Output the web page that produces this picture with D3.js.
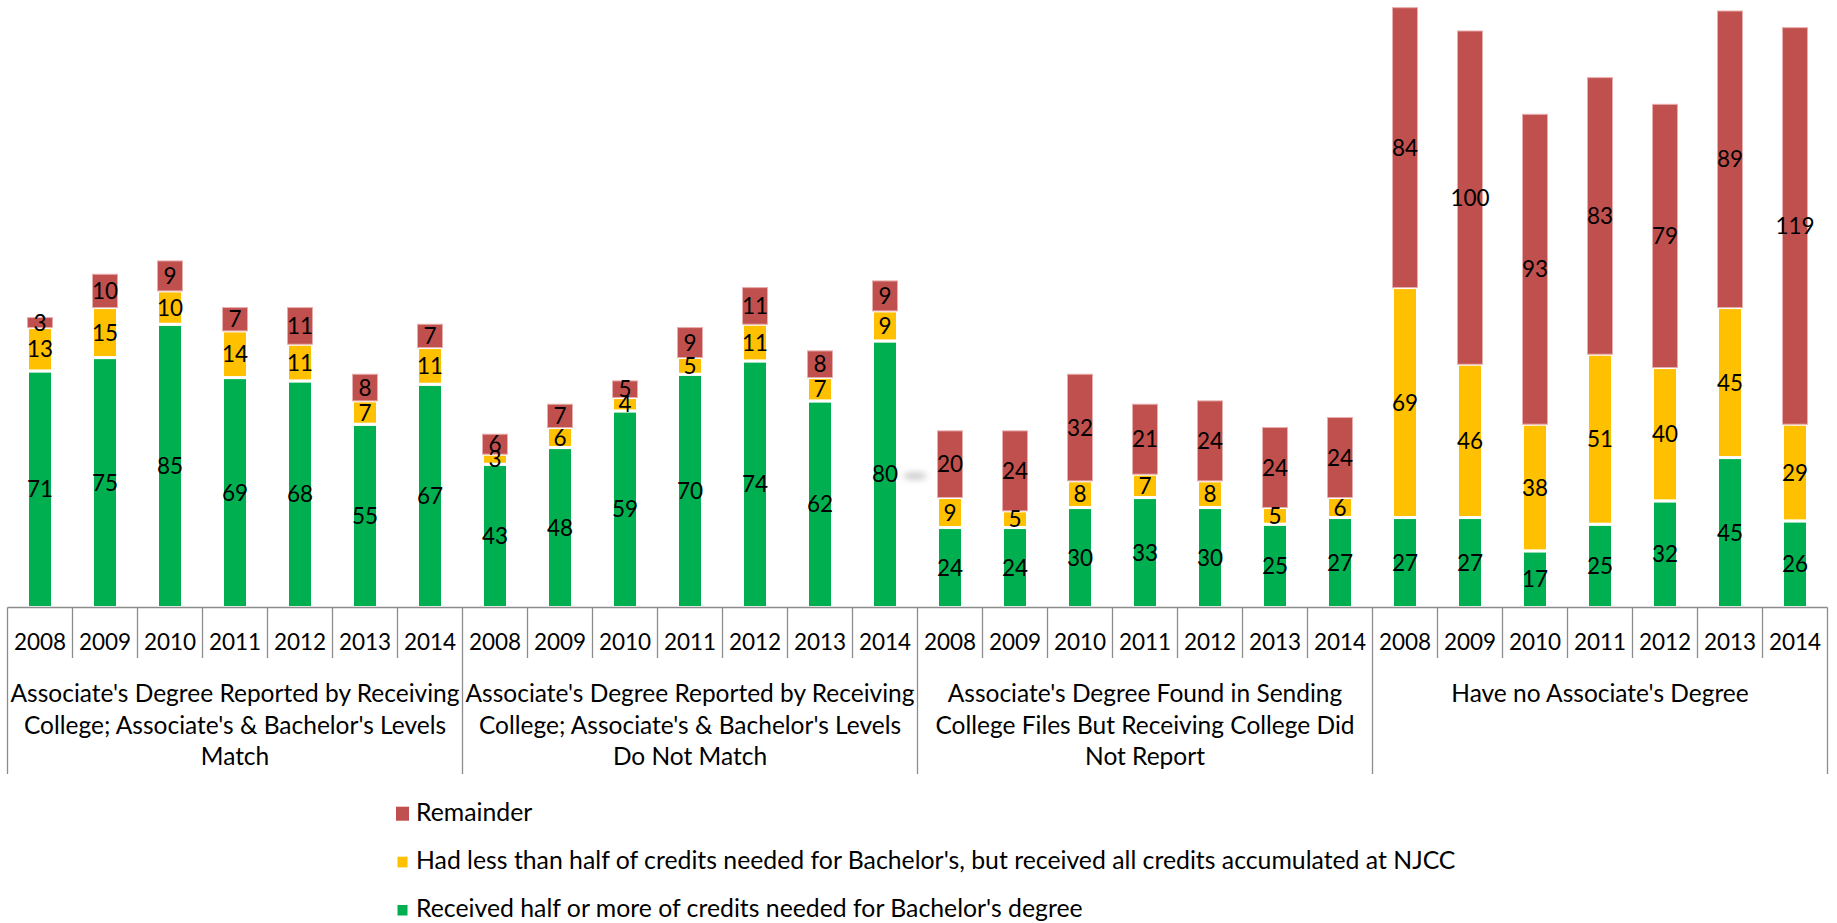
<!DOCTYPE html>
<html><head><meta charset="utf-8">
<script src="https://cdn.jsdelivr.net/npm/d3@7"></script>
<style>
body{margin:0;background:#fff}
svg{display:block}
text{font-family:Lato,"Open Sans",sans-serif;fill:#000}
</style>
</head><body>
<svg id="chart" width="1837" height="923"></svg>
<script>
// ---------- data ----------
const years = ["2008","2009","2010","2011","2012","2013","2014"];
const groupLabels = [
  ["Associate's Degree Reported by Receiving","College; Associate's & Bachelor's Levels","Match"],
  ["Associate's Degree Reported by Receiving","College; Associate's & Bachelor's Levels","Do Not Match"],
  ["Associate's Degree Found in Sending","College Files But Receiving College Did","Not Report"],
  ["Have no Associate's Degree"]
];
const seriesNames = [
  "Received half or more of credits needed for Bachelor's degree",
  "Had less than half of credits needed for Bachelor's, but received all credits accumulated at NJCC",
  "Remainder"
];
const halfOrMore = [71,75,85,69,68,55,67, 43,48,59,70,74,62,80, 24,24,30,33,30,25,27, 27,27,17,25,32,45,26];
const lessThanHalf = [13,15,10,14,11,7,11, 3,6,4,5,11,7,9, 9,5,8,7,8,5,6, 69,46,38,51,40,45,29];
const remainder = [3,10,9,7,11,8,7, 6,7,5,9,11,8,9, 20,24,32,21,24,24,24, 84,100,93,83,79,89,119];
const colors = ["#00B050","#FFC000","#C0504D"];

// ---------- layout ----------
const svg = d3.select("#chart");
const FN = 22.5;   // numbers
const FT = 24.5;   // group labels
const FL = 24.8;   // legend
const keys = [];
groupLabels.forEach((g,gi)=>years.forEach(y=>keys.push(gi+"|"+y)));
const x = d3.scaleBand().domain(keys).range([7.5,1827.5]).padding(0);
const gx = d3.scaleBand().domain(groupLabels.map((d,i)=>i)).range([7.5,1827.5]).padding(0);
const y = d3.scaleLinear().domain([0,182.3]).range([607.5,0]);
const bw = 25;

const series = [halfOrMore, lessThanHalf, remainder];
const rows = keys.map((k,i)=>({key:k, v:series.map(s=>s[i])}));

const defs = svg.append("defs");
defs.append("filter").attr("id","blur").attr("x","-50%").attr("y","-100%").attr("width","200%").attr("height","300%")
  .append("feGaussianBlur").attr("stdDeviation",3);

// bars
series.forEach((s,si)=>{
  svg.append("g").selectAll("rect").data(rows).join("rect")
    .attr("x",d=>x(d.key)+x.bandwidth()/2-bw/2)
    .attr("width",bw)
    .attr("y",d=>y(d3.sum(d.v.slice(0,si+1))))
    .attr("height",d=>y(d3.sum(d.v.slice(0,si)))-y(d3.sum(d.v.slice(0,si+1))))
    .attr("fill",colors[si])
    .attr("stroke",si===2?"#E8AEAD":"#ffffff")
    .attr("stroke-width",si===2?1:3);
});

// data labels
series.forEach((s,si)=>{
  svg.append("g").selectAll("text").data(rows).join("text")
    .attr("x",d=>x(d.key)+x.bandwidth()/2)
    .attr("y",d=>(y(d3.sum(d.v.slice(0,si)))+y(d3.sum(d.v.slice(0,si+1))))/2+8)
    .attr("text-anchor","middle")
    .style("font-size",FN+"px")
    .text(d=>d.v[si]);
});

// small grey smudge artifact
svg.append("ellipse").attr("cx",915).attr("cy",476).attr("rx",12).attr("ry",3.5)
  .attr("fill","#c8c8c8").attr("filter","url(#blur)");

// axis
const ax = svg.append("g").attr("stroke","#8c8c8c").attr("stroke-width",1.3);
ax.append("line").attr("x1",7.5).attr("x2",1827.5).attr("y1",y(0)).attr("y2",y(0));
const bounds = d3.range(keys.length+1);
ax.selectAll("line.t").data(bounds).join("line").attr("class","t")
  .attr("x1",i=>7.5+i*x.step()).attr("x2",i=>7.5+i*x.step())
  .attr("y1",y(0)).attr("y2",i=>i%years.length===0?774:658);

// year labels
svg.append("g").selectAll("text").data(keys).join("text")
  .attr("x",k=>x(k)+x.bandwidth()/2).attr("y",650)
  .attr("text-anchor","middle").style("font-size",FN+"px")
  .text(k=>k.split("|")[1]);

// group labels
groupLabels.forEach((lines,gi)=>{
  const t = svg.append("text").attr("text-anchor","middle").style("font-size",FT+"px");
  lines.forEach((ln,li)=>{
    t.append("tspan").attr("x",gx(gi)+gx.bandwidth()/2).attr("y",701.7+li*31.8).text(ln);
  });
});

// legend
const legend = [
  {name:seriesNames[2], c:colors[2], sx:396, sy:806.7, sw:13, sh:14, ty:821},
  {name:seriesNames[1], c:colors[1], sx:397.5, sy:856.7, sw:10, sh:10.7, ty:868.5},
  {name:seriesNames[0], c:colors[0], sx:397.5, sy:905, sw:10, sh:10.5, ty:916.5}
];
const lg = svg.append("g");
lg.selectAll("rect").data(legend).join("rect")
  .attr("x",d=>d.sx).attr("y",d=>d.sy).attr("width",d=>d.sw).attr("height",d=>d.sh).attr("fill",d=>d.c);
lg.selectAll("text").data(legend).join("text")
  .attr("x",416).attr("y",d=>d.ty).style("font-size",FL+"px").text(d=>d.name);
</script>
</body></html>
